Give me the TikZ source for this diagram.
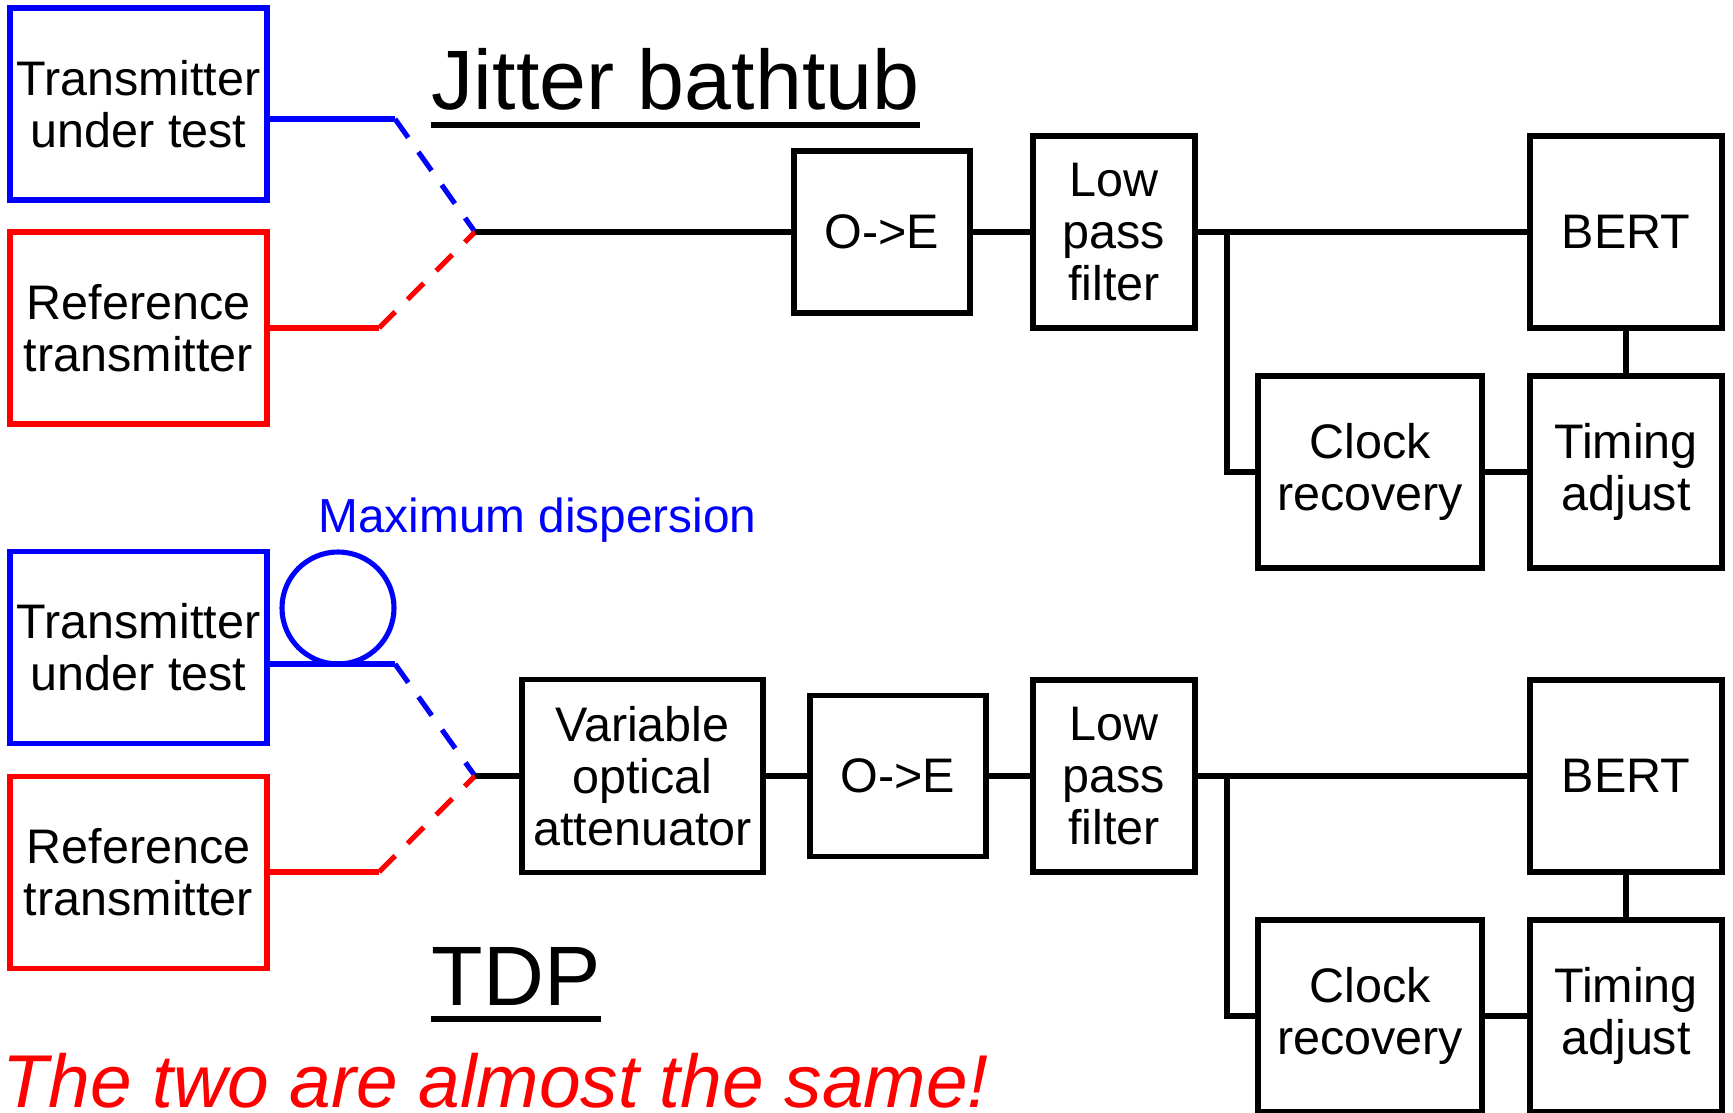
\documentclass[tikz,border=0pt]{standalone}
\usepackage{fontspec}
\setmainfont{Liberation Sans}
\usepackage{tikz}
\usepackage{xcolor}
\usetikzlibrary{positioning}
\definecolor{dutblue}{RGB}{0,0,255}
\definecolor{refred}{RGB}{255,0,0}

\begin{document}
\begin{tikzpicture}[
    block/.style={draw, line width=1.7pt, minimum width=#1, minimum height=1.92cm, inner sep=0pt, align=center, font=\fontsize{13.8}{14.8}\selectfont},
    block/.default=1.92cm,
    txbox/.style={block=2.57cm, draw=#1},
    wire/.style={line width=1.45pt, color=black},
    fiber/.style={line width=1.45pt, color=#1},
    fiberdash/.style={line width=1.45pt, color=#1, dash pattern=on 6.5pt off 5pt},
    title/.style={font=\fontsize{24}{28}\selectfont, inner sep=0pt, anchor=base west},
    uline/.style={line width=1.75pt},
]
\useasboundingbox (0,0) rectangle (17.33,11.12);

% Jitter bathtub setup
\node[txbox=dutblue] (tut1) at (1.385,10.075) {Transmitter\\under test};
\node[txbox=refred] (ref1) at (1.385,7.84) {Reference\\transmitter};
\coordinate (bend1) at (3.95,9.93);
\coordinate (kink1) at (3.79,7.84);
\coordinate (split1) at (4.75,8.80);
\node[block=1.76cm, minimum height=1.62cm] (oe1) at (8.82,8.80) {O->E};
\node[block=1.62cm] (lpf1) at (11.14,8.80) {Low\\pass\\filter};
\node[block] (bert1) at (16.26,8.80) {BERT};
\node[block=2.24cm] (clk1) at (13.70,6.40) {Clock\\recovery};
\node[block] (tim1) at (16.26,6.40) {Timing\\adjust};
\coordinate (tap1) at (12.27,8.80);

\node[title] (head1) at (4.31,10.02) {Jitter bathtub};
\draw[uline] ([yshift=-0.15cm]head1.base west) -- ([yshift=-0.15cm]head1.base east);

\draw[fiber=dutblue] (tut1.east |- bend1) -- (bend1);
\draw[fiberdash=dutblue] (bend1) -- (split1);
\draw[fiber=refred] (ref1.east) -- (kink1);
\draw[fiberdash=refred] (kink1) -- (split1);
\draw[wire] (split1) -- (oe1.west);
\draw[wire] (oe1.east) -- (lpf1.west);
\draw[wire] (lpf1.east) -- (bert1.west);
\draw[wire] (tap1) |- (clk1.west);
\draw[wire] (clk1.east) -- (tim1.west);
\draw[wire] (bert1.south) -- (tim1.north);

% TDP setup
\node[txbox=dutblue] (tut2) at (1.385,4.645) {Transmitter\\under test};
\node[txbox=refred] (ref2) at (1.385,2.395) {Reference\\transmitter};
\node[circle, draw=dutblue, line width=1.45pt, minimum size=1.12cm, inner sep=0pt] (loop) at (3.38,5.04) {};
\node[font=\fontsize{13.6}{16}\selectfont, text=dutblue] (disp) at (5.375,5.92) {Maximum dispersion};
\coordinate (bend2) at (3.95,4.48);
\coordinate (kink2) at (3.79,2.40);
\coordinate (split2) at (4.75,3.36);
\node[block=2.41cm, minimum height=1.93cm] (voa) at (6.425,3.36) {Variable\\optical\\attenuator};
\node[block=1.76cm, minimum height=1.61cm] (oe2) at (8.98,3.36) {O->E};
\node[block=1.62cm] (lpf2) at (11.14,3.36) {Low\\pass\\filter};
\node[block] (bert2) at (16.26,3.36) {BERT};
\node[block=2.24cm] (clk2) at (13.70,0.96) {Clock\\recovery};
\node[block] (tim2) at (16.26,0.96) {Timing\\adjust};
\coordinate (tap2) at (12.27,3.36);

\node[title] (head2) at (4.31,1.06) {TDP};
\draw[uline] ([yshift=-0.13cm]head2.base west) -- ([yshift=-0.13cm]head2.base east);

\draw[fiber=dutblue] (tut2.east |- bend2) -- (bend2);
\draw[fiberdash=dutblue] (bend2) -- (split2);
\draw[fiber=refred] (ref2.east |- kink2) -- (kink2);
\draw[fiberdash=refred] (kink2) -- (split2);
\draw[wire] (split2) -- (voa.west);
\draw[wire] (voa.east) -- (oe2.west);
\draw[wire] (oe2.east) -- (lpf2.west);
\draw[wire] (lpf2.east) -- (bert2.west);
\draw[wire] (tap2) |- (clk2.west);
\draw[wire] (clk2.east) -- (tim2.west);
\draw[wire] (bert2.south) -- (tim2.north);

% Remark
\node[font=\fontsize{21.3}{24}\selectfont\itshape, text=refred, inner sep=0pt, anchor=base west] (note) at (0.02,0.04) {The two are almost the same!};

\end{tikzpicture}
\end{document}
